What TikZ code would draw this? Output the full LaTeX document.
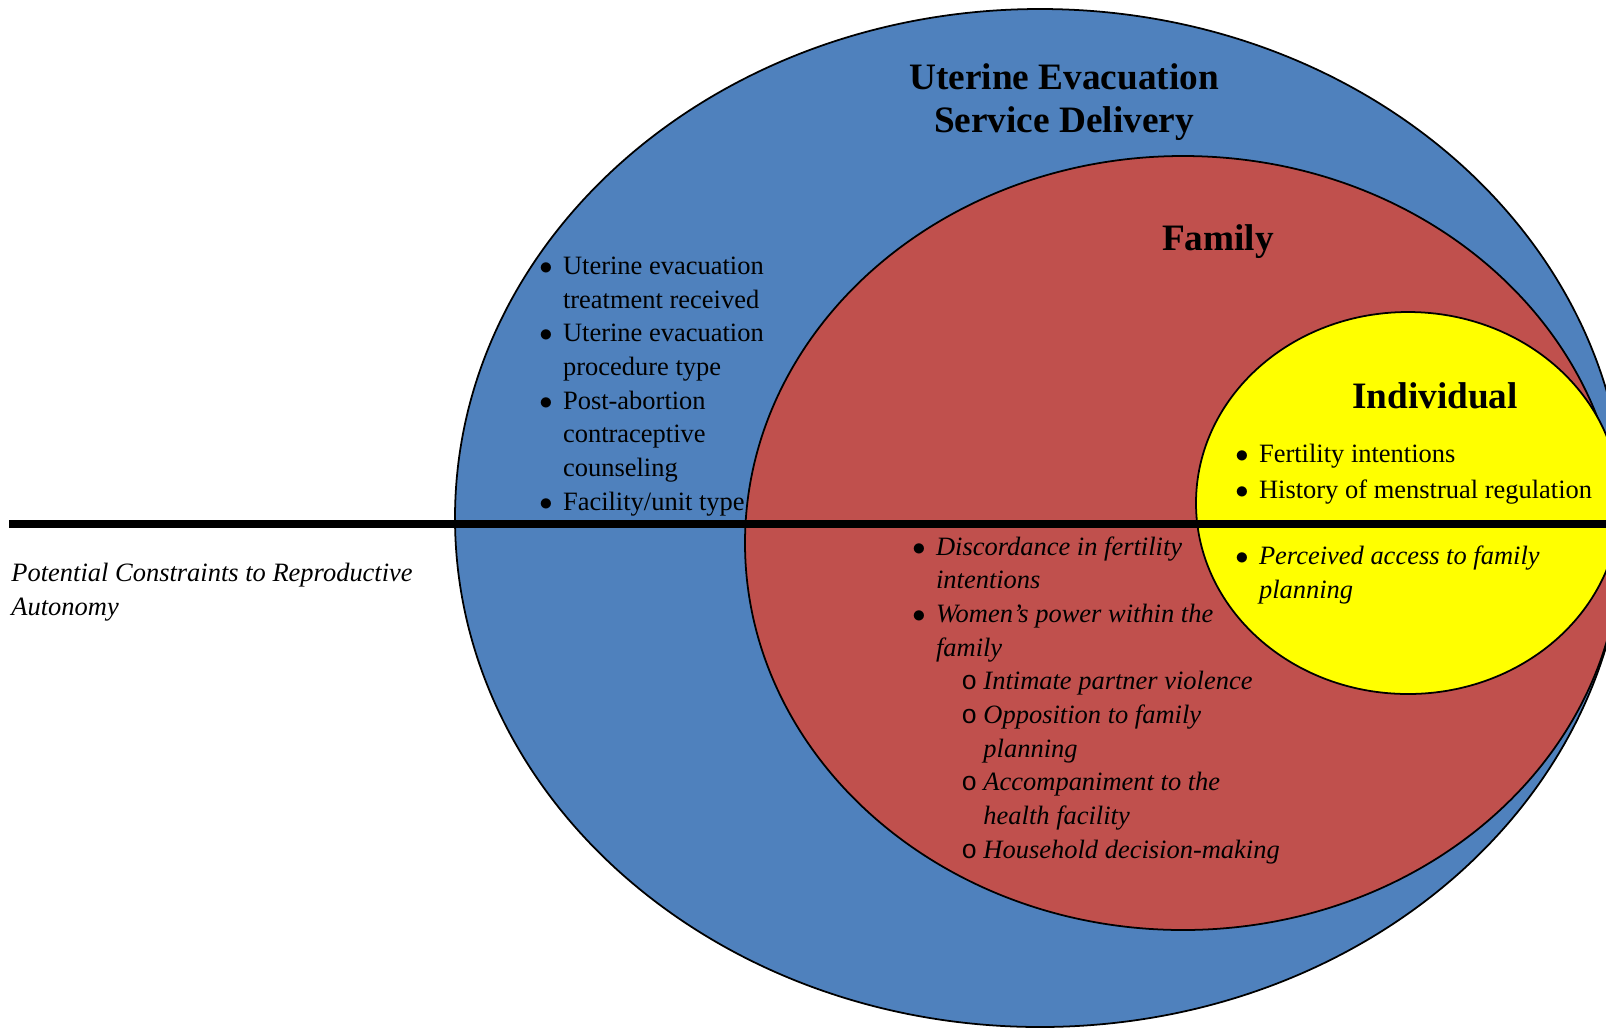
\documentclass[tikz,border=0pt]{standalone}
\usepackage{fontspec}
\setmainfont{Liberation Serif}
\newfontfamily\subfont{Liberation Mono}
\usetikzlibrary{positioning}
\definecolor{cSvc}{HTML}{4F81BD}
\definecolor{cFam}{HTML}{C0504D}
\definecolor{cInd}{HTML}{FFFF00}
% list helpers
\newcommand{\bul}{\makebox[10.7pt][l]{$\bullet$}}
\newcommand{\cont}{\hspace*{10.7pt}}
\newcommand{\subbul}{\hspace*{22.2pt}\makebox[10pt][l]{\subfont\upshape o}}
\newcommand{\subcont}{\hspace*{32.2pt}}

\begin{document}
\begin{tikzpicture}[
    x=0.4533pt,y=-0.4533pt,
    ring/.style={draw=black,line width=0.8pt},
    divider/.style={draw=black,line width=3.4pt},
    ttl/.style={font=\fontsize{16.9}{19.6}\selectfont\bfseries,align=center,
                inner sep=0pt,anchor=base},
    lst/.style={font=\fontsize{12}{15.25}\selectfont,align=left,
                inner sep=0pt,anchor=base west},
    ilst/.style={lst,font=\fontsize{12}{15.25}\selectfont\itshape},
  ]
  \useasboundingbox (0,0) rectangle (1606,1029);
  \clip (0,0) rectangle (1606,1029);

  % ---------- RINGS ----------
  \coordinate (svc) at (1040,518);
  \coordinate (fam) at (1183,543);
  \coordinate (ind) at (1408,503);
  \draw[ring,fill=cSvc] (svc) ellipse [x radius=585,y radius=509];
  \draw[ring,fill=cFam] (fam) ellipse [x radius=438,y radius=387];
  \draw[ring,fill=cInd] (ind) ellipse [x radius=212,y radius=191];

  % ---------- DIVIDER ----------
  \coordinate (divL) at (9,524);
  \coordinate (divR) at (1606,524);
  \draw[divider] (divL) -- (divR);

  % ---------- TITLES (placed at last baseline) ----------
  \node[ttl] (tSvc) at (1064,132.7) {Uterine Evacuation\\Service Delivery};
  \node[ttl] (tFam) at (1218,250) {Family};
  \node[ttl] (tInd) at (1435,408) {Individual};

  % ---------- LISTS (placed at last baseline) ----------
  \node[lst] (lSvc) at (539,510)
        {\bul Uterine evacuation\\\cont treatment received\\
         \bul Uterine evacuation\\\cont procedure type\\
         \bul Post-abortion\\\cont contraceptive\\\cont counseling\\
         \bul Facility/unit type};
  \node[ilst] (lFam) at (912,858)
        {\bul Discordance in fertility\\\cont intentions\\
         \bul Women’s power within the\\\cont family\\
         \subbul Intimate partner violence\\
         \subbul Opposition to family\\\subcont planning\\
         \subbul Accompaniment to the\\\subcont health facility\\
         \subbul Household decision-making};
  \node[lst,font=\fontsize{12}{15.9}\selectfont] (lInd) at (1235,498)
        {\bul Fertility intentions\\\bul History of menstrual regulation};
  \node[ilst] (lIndC) at (1235,598.6)
        {\bul Perceived access to family\\\cont planning};

  % ---------- SIDE CAPTION ----------
  \node[ilst] (capt) at (11,615)
        {Potential Constraints to Reproductive\\Autonomy};

\end{tikzpicture}
\end{document}
